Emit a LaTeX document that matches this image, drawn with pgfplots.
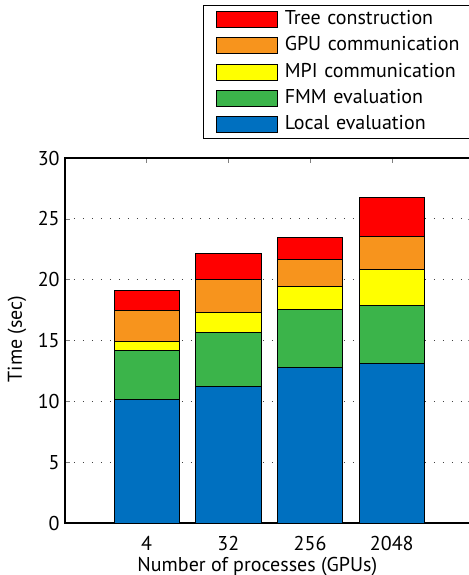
\documentclass[border=0pt]{standalone}
\usepackage{fontspec}
\setmainfont{PT Sans}
\usepackage{pgfplots}
\pgfplotsset{compat=1.18}

\definecolor{cLocal}{RGB}{0,112,192}
\definecolor{cFMM}{RGB}{59,180,74}
\definecolor{cMPI}{RGB}{255,255,0}
\definecolor{cGPU}{RGB}{247,148,29}
\definecolor{cTree}{RGB}{255,0,0}

\begin{document}
\fontsize{10}{12}\selectfont
\begin{tikzpicture}
\useasboundingbox (0,0) rectangle (234.5pt,287.5pt);
\clip (0,0) rectangle (234.5pt,287.5pt);
\begin{axis}[
    at={(32.5pt,26pt)}, anchor=south west,
    scale only axis,
    width=204.25pt, height=182.5pt,
    ybar stacked,
    bar width=0.8,
    xmin=-1, xmax=4,
    ymin=0, ymax=30,
    xtick=data,
    xticklabels={4,32,256,2048},
    ytick={0,5,...,30},
    tick align=inside,
    major tick length=2.5pt,
    axis line style={line width=0.6pt},
    /pgf/number format/assume math mode=true,
    yticklabel style={inner xsep=0pt, xshift=-2.5pt},
    xticklabel style={inner ysep=0pt, yshift=-6.5pt},
    ymajorgrids=true,
    grid style={black!75, line width=0.5pt, dash pattern=on 0.5pt off 4pt},
    xlabel={Number of processes (GPUs)},
    ylabel={Time (sec)},
    xlabel style={at={(axis description cs:0.4708,0)}, anchor=base, yshift=-24pt},
    ylabel style={at={(axis description cs:-0.1175,0.504)}, anchor=center},
    every axis plot/.append style={draw=black, line width=0.5pt},
    reverse legend,
    legend cell align=left,
    legend style={
        at={(axis description cs:0.3385,1.419)}, anchor=north west,
        draw=black, line width=0.5pt, fill=white,
        inner xsep=6pt, inner ysep=2.5pt,
        row sep=4.15pt, column sep=3.5pt,
        nodes={inner sep=0pt, text height=7pt, text depth=2pt},
        /tikz/every even column/.append style={text width=96pt, align=left},
    },
    legend image code/.code={\draw[#1] (0pt,-4pt) rectangle (30.5pt,4pt);},
]
\addplot[fill=cLocal] coordinates {(0,10.17) (1,11.26) (2,12.82) (3,13.09)};
\addplot[fill=cFMM]   coordinates {(0,4.02) (1,4.43) (2,4.76) (3,4.82)};
\addplot[fill=cMPI]   coordinates {(0,0.74) (1,1.59) (2,1.84) (3,2.96)};
\addplot[fill=cGPU]   coordinates {(0,2.55) (1,2.71) (2,2.22) (3,2.66)};
\addplot[fill=cTree]  coordinates {(0,1.64) (1,2.17) (2,1.86) (3,3.26)};
\legend{Local evaluation, FMM evaluation, MPI communication, GPU communication, Tree construction}
\end{axis}
\end{tikzpicture}
\end{document}
